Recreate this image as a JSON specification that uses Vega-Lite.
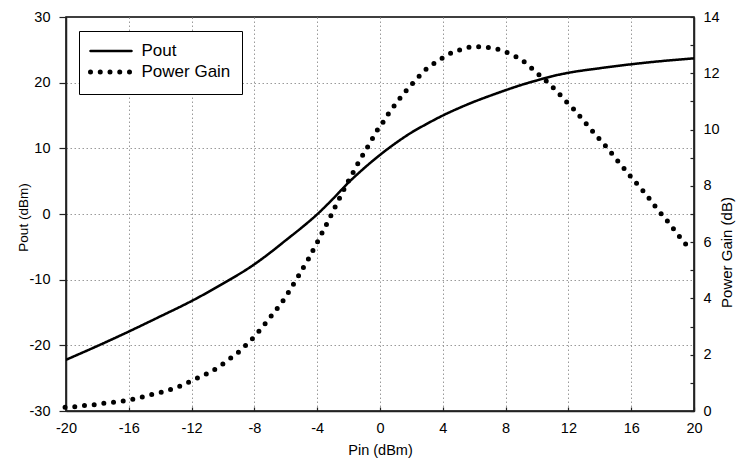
{
  "$schema": "https://vega.github.io/schema/vega-lite/v6.json",
  "width": 628,
  "height": 394,
  "autosize": "none",
  "padding": {"left": 66, "top": 17, "right": 42, "bottom": 49},
  "background": "white",
  "config": {
    "view": {"stroke": "black", "strokeWidth": 1.5},
    "font": "Liberation Sans",
    "axis": {
      "labelFont": "Liberation Sans",
      "titleFont": "Liberation Sans",
      "labelColor": "black",
      "titleColor": "black",
      "titleFontWeight": "normal",
      "domainColor": "#222",
      "domainWidth": 1.5,
      "tickColor": "#222",
      "tickWidth": 1.2,
      "gridColor": "#9a9a9a",
      "gridDash": [1.5, 2.5],
      "gridWidth": 1,
      "labelOverlap": false,
      "labelFlush": false
    }
  },
  "datasets": {
    "pout": [
      {"pin": -20, "pout": -22.2}, {"pin": -18, "pout": -20.1}, {"pin": -16, "pout": -17.9},
      {"pin": -14, "pout": -15.6}, {"pin": -12, "pout": -13.25}, {"pin": -10, "pout": -10.6},
      {"pin": -8, "pout": -7.66}, {"pin": -7, "pout": -5.9}, {"pin": -6, "pout": -4.0},
      {"pin": -5, "pout": -2.1}, {"pin": -4, "pout": -0.05}, {"pin": -3, "pout": 2.3},
      {"pin": -2, "pout": 4.8}, {"pin": -1, "pout": 7.0}, {"pin": 0, "pout": 9.0},
      {"pin": 1, "pout": 10.8}, {"pin": 2, "pout": 12.4}, {"pin": 3, "pout": 13.75},
      {"pin": 4, "pout": 15.0}, {"pin": 5, "pout": 16.1}, {"pin": 6, "pout": 17.1},
      {"pin": 7, "pout": 18.0}, {"pin": 8, "pout": 18.85}, {"pin": 9, "pout": 19.65},
      {"pin": 10, "pout": 20.35}, {"pin": 11, "pout": 21.0}, {"pin": 12, "pout": 21.5},
      {"pin": 14, "pout": 22.2}, {"pin": 16, "pout": 22.8}, {"pin": 18, "pout": 23.3},
      {"pin": 20, "pout": 23.7}
    ],
    "gain": [
      {"pin": -20.06, "gain": 0.13}, {"pin": -19.47, "gain": 0.15}, {"pin": -18.85, "gain": 0.19},
      {"pin": -18.24, "gain": 0.22}, {"pin": -17.62, "gain": 0.27}, {"pin": -17.0, "gain": 0.31},
      {"pin": -16.39, "gain": 0.35}, {"pin": -15.78, "gain": 0.41}, {"pin": -15.18, "gain": 0.49},
      {"pin": -14.56, "gain": 0.58}, {"pin": -13.95, "gain": 0.66}, {"pin": -13.35, "gain": 0.76},
      {"pin": -12.74, "gain": 0.88}, {"pin": -12.12, "gain": 1.04}, {"pin": -11.51, "gain": 1.2},
      {"pin": -10.89, "gain": 1.36}, {"pin": -10.27, "gain": 1.57}, {"pin": -9.68, "gain": 1.81},
      {"pin": -9.06, "gain": 2.07}, {"pin": -8.49, "gain": 2.37}, {"pin": -7.96, "gain": 2.67},
      {"pin": -7.49, "gain": 2.98}, {"pin": -7.05, "gain": 3.29}, {"pin": -6.62, "gain": 3.59},
      {"pin": -6.2, "gain": 3.9}, {"pin": -5.85, "gain": 4.2},
      {"pin": -5.52, "gain": 4.5}, {"pin": -5.18, "gain": 4.81}, {"pin": -4.86, "gain": 5.12},
      {"pin": -4.54, "gain": 5.42}, {"pin": -4.25, "gain": 5.73}, {"pin": -3.95, "gain": 6.04},
      {"pin": -3.67, "gain": 6.35}, {"pin": -3.4, "gain": 6.64}, {"pin": -3.12, "gain": 6.95},
      {"pin": -2.85, "gain": 7.26}, {"pin": -2.57, "gain": 7.57}, {"pin": -2.29, "gain": 7.88},
      {"pin": -2.02, "gain": 8.17}, {"pin": -1.72, "gain": 8.47}, {"pin": -1.42, "gain": 8.78},
      {"pin": -1.1, "gain": 9.09}, {"pin": -0.78, "gain": 9.39}, {"pin": -0.47, "gain": 9.69},
      {"pin": -0.15, "gain": 10.0}, {"pin": 0.24, "gain": 10.3}, {"pin": 0.59, "gain": 10.61},
      {"pin": 1.0, "gain": 10.91}, {"pin": 1.42, "gain": 11.22}, {"pin": 1.87, "gain": 11.51},
      {"pin": 2.36, "gain": 11.82}, {"pin": 2.91, "gain": 12.13}, {"pin": 3.5, "gain": 12.37},
      {"pin": 4.12, "gain": 12.59}, {"pin": 4.73, "gain": 12.77}, {"pin": 5.35, "gain": 12.87},
      {"pin": 5.97, "gain": 12.95}, {"pin": 6.58, "gain": 12.93}, {"pin": 7.2, "gain": 12.89},
      {"pin": 7.82, "gain": 12.8}, {"pin": 8.43, "gain": 12.65}, {"pin": 9.04, "gain": 12.47},
      {"pin": 9.62, "gain": 12.2}, {"pin": 10.21, "gain": 11.91}, {"pin": 10.79, "gain": 11.62},
      {"pin": 11.34, "gain": 11.31}, {"pin": 11.85, "gain": 11.0}, {"pin": 12.38, "gain": 10.7},
      {"pin": 12.85, "gain": 10.39}, {"pin": 13.33, "gain": 10.08}, {"pin": 13.8, "gain": 9.77},
      {"pin": 14.27, "gain": 9.48}, {"pin": 14.73, "gain": 9.17}, {"pin": 15.18, "gain": 8.86},
      {"pin": 15.65, "gain": 8.55}, {"pin": 16.1, "gain": 8.24}, {"pin": 16.56, "gain": 7.95},
      {"pin": 17.01, "gain": 7.65}, {"pin": 17.43, "gain": 7.34}, {"pin": 17.88, "gain": 7.03},
      {"pin": 18.33, "gain": 6.73}, {"pin": 18.77, "gain": 6.42}, {"pin": 19.2, "gain": 6.11},
      {"pin": 19.64, "gain": 5.82}
    ]
  },
  "layer": [
    {
      "data": {"name": "pout"},
      "mark": {"type": "line", "color": "black", "strokeWidth": 2.5, "interpolate": "monotone", "strokeCap": "round", "clip": true},
      "encoding": {
        "x": {
          "field": "pin", "type": "quantitative",
          "scale": {"domain": [-20, 20], "nice": false, "zero": false},
          "axis": {
            "values": [-20,-19,-18,-17,-16,-15,-14,-13,-12,-11,-10,-9,-8,-7,-6,-5,-4,-3,-2,-1,0,1,2,3,4,5,6,7,8,9,10,11,12,13,14,15,16,17,18,19,20],
            "labelExpr": "datum.value % 4 === 0 ? '' + datum.value : ''",
            "grid": true,
            "gridOpacity": {"condition": {"test": "datum.value % 4 === 0 && abs(datum.value) < 20", "value": 1}, "value": 0},
            "tickSize": -4,
            "labelPadding": 14,
            "labelFontSize": 14.5,
            "title": "Pin (dBm)",
            "titleFontSize": 14.5,
            "titleBaseline": "middle",
            "titleY": 39
          }
        },
        "y": {
          "field": "pout", "type": "quantitative",
          "scale": {"domain": [-30, 30], "nice": false, "zero": false},
          "axis": {
            "orient": "left",
            "values": [-30, -20, -10, 0, 10, 20, 30],
            "labelExpr": "'' + datum.value",
            "grid": true,
            "gridOpacity": {"condition": {"test": "abs(datum.value) < 30", "value": 1}, "value": 0},
            "tickSize": 7,
            "labelPadding": 9,
            "labelFontSize": 14.5,
            "title": "Pout (dBm)",
            "titleFontSize": 13.5,
            "titleAngle": 270,
            "titleAlign": "center",
            "titleBaseline": "middle",
            "titleX": -43,
            "titleY": 200
          }
        },
        "strokeDash": {
          "datum": "Pout", "type": "nominal",
          "scale": {"domain": ["Pout", "Power Gain"], "range": [[1, 0], [0, 9.75]]},
          "legend": {
            "title": null,
            "orient": "none",
            "legendX": 13,
            "legendY": 14,
            "strokeColor": "black",
            "fillColor": "white",
            "padding": 11.5,
            "symbolType": "stroke",
            "symbolSize": 1681,
            "symbolOffset": 12,
            "symbolStrokeColor": "black",
            "symbolStrokeWidth": 2.5,
            "labelFont": "Liberation Sans",
            "labelFontSize": 17,
            "labelColor": "black",
            "labelOffset": 22,
            "rowPadding": 2,
            "encode": {
              "symbols": {
                "update": {
                  "strokeCap": {"value": "round"},
                  "strokeWidth": {"signal": "datum.value === 'Pout' ? 2.5 : 5"}
                }
              }
            }
          }
        }
      }
    },
    {
      "data": {"name": "gain"},
      "mark": {"type": "line", "color": "black", "strokeWidth": 5, "interpolate": "monotone", "strokeCap": "round", "clip": false},
      "encoding": {
        "x": {"field": "pin", "type": "quantitative", "scale": {"domain": [-20, 20], "nice": false, "zero": false}},
        "y": {
          "field": "gain", "type": "quantitative",
          "scale": {"domain": [0, 14], "nice": false, "zero": false},
          "axis": {
            "orient": "right",
            "values": [0,1,2,3,4,5,6,7,8,9,10,11,12,13,14],
            "labelExpr": "datum.value % 2 === 0 ? '' + datum.value : ''",
            "grid": false,
            "tickSize": -4,
            "labelPadding": 13,
            "labelFontSize": 14.5,
            "title": "Power Gain (dB)",
            "titleFontSize": 15,
            "titleAngle": 270,
            "titleAlign": "center",
            "titleBaseline": "middle",
            "titleX": 32,
            "titleY": 235
          }
        },
        "strokeDash": {"datum": "Power Gain", "type": "nominal"}
      }
    }
  ],
  "resolve": {"scale": {"y": "independent"}}
}
